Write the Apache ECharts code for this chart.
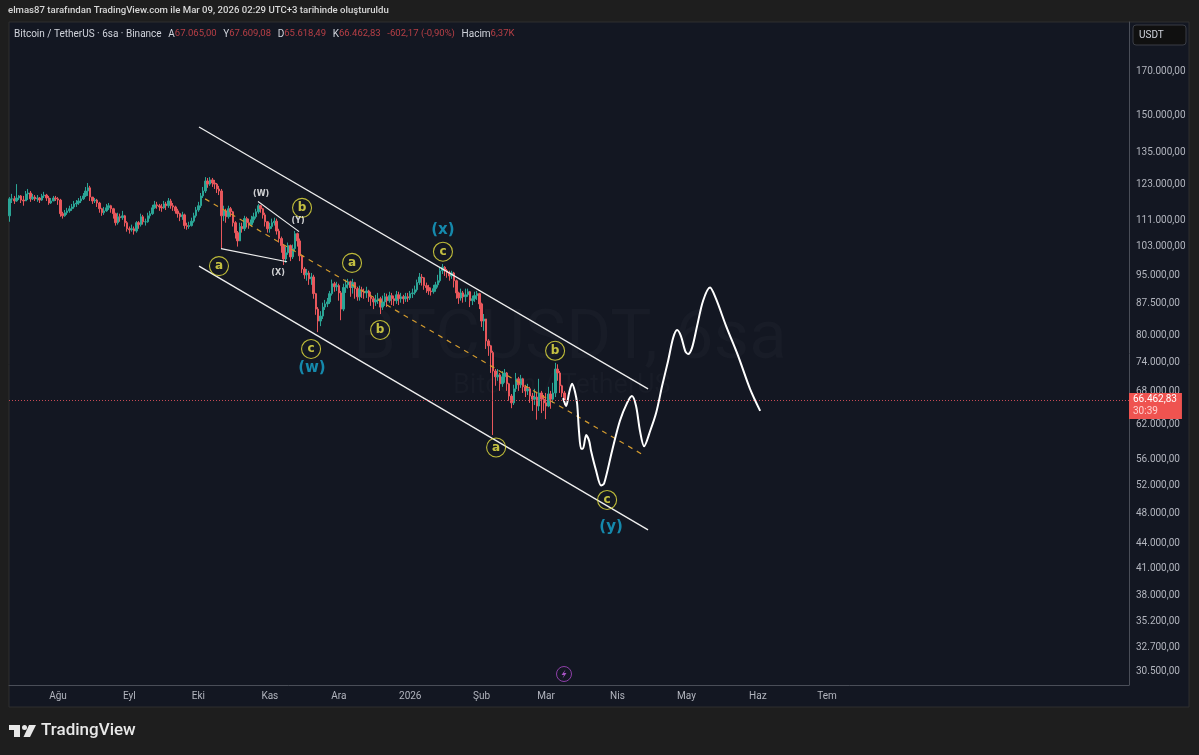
<!DOCTYPE html>
<html>
<head>
<meta charset="utf-8">
<title>BTCUSDT 6sa</title>
<style>
  html, body { margin: 0; padding: 0; background: #1e1e1e; }
  #main { width: 1199px; height: 755px; }
</style>
</head>
<body>
<div id="main"></div>
<script src="https://cdn.jsdelivr.net/npm/echarts@6/dist/echarts.min.js"></script>
<script>
// all prices in thousand USDT
const firstBar = '2025-07-11';
const firstOpen = 112.6;
const barCloses = [
  118.2,118.2,117.5,118.5,119.2,117.8,117.5,119.9,120.2,118.2,
  118.8,118.2,118.5,117.8,119.2,119.5,118.5,116.8,117.5,118.5,
  118.2,117.8,113.3,112.6,113.6,114.2,114.9,115.5,116.5,116.8,
  117.5,118.2,119.2,120.9,122.0,118.8,117.5,117.8,116.8,114.9,
  113.6,114.2,115.2,115.9,114.9,113.3,110.4,112.3,112.0,112.6,
  110.4,108.5,108.2,108.5,107.8,110.4,109.8,112.3,110.7,110.7,
  112.6,113.3,115.2,116.2,115.9,115.5,115.2,116.5,115.9,117.5,
  115.9,115.5,114.2,113.3,112.3,112.9,109.5,109.2,109.5,110.9,
  112.6,114.5,115.9,119.2,120.9,124.4,123.3,124.8,123.7,123.3,
  121.6,120.9,112.6,114.2,112.3,114.9,113.9,110.4,107.3,104.8,
  109.2,108.5,111.7,110.4,109.8,111.3,112.3,113.9,115.9,114.9,
  112.9,110.7,108.5,109.2,110.4,110.9,107.8,105.5,103.4,99.5,
  101.3,103.4,100.1,102.5,107.0,104.8,100.4,96.7,95.1,95.6,
  94.0,94.5,90.1,86.2,83.3,84.5,86.7,87.5,88.0,90.1,
  92.7,91.9,92.2,90.3,86.2,91.7,92.4,93.2,91.7,93.0,
  91.4,89.3,91.1,90.6,90.3,90.8,89.3,88.8,88.0,88.5,
  88.8,86.7,88.0,89.3,88.3,89.6,88.8,88.3,89.8,88.8,
  89.3,88.8,89.3,89.0,90.1,90.3,91.1,93.0,94.5,94.3,
  92.2,91.7,90.8,90.6,91.4,92.4,93.5,96.2,97.2,96.2,
  95.6,94.8,95.6,93.5,90.3,89.0,90.3,89.3,89.8,90.6,
  88.3,88.8,89.6,90.1,87.5,83.3,83.8,78.7,77.6,76.1,
  72.2,71.0,71.4,69.6,71.0,71.8,69.6,67.2,65.9,68.6,
  70.6,69.4,70.6,69.0,68.2,68.6,67.2,66.6,67.0,65.3,
  67.8,66.6,65.9,65.3,67.6,66.6,67.8,72.6,71.8,69.2,67.8,66.46
];
const barHighs = [
  118.8,119.9,119.2,123.3,119.5,119.5,119.2,120.9,121.6,120.9,
  119.9,119.5,119.5,118.8,119.9,120.6,119.9,119.2,118.5,119.2,
  119.2,118.8,118.2,113.9,114.5,115.2,115.9,116.5,117.5,117.8,
  118.5,119.2,120.2,122.3,123.7,122.7,118.8,118.5,118.2,117.2,
  115.2,115.5,116.5,116.8,116.2,115.2,113.6,113.6,113.3,114.2,
  112.9,110.9,109.2,109.8,109.2,110.9,110.9,113.3,112.9,111.7,
  113.6,114.2,116.2,117.5,117.2,116.5,116.5,117.5,117.2,118.5,
  118.2,116.8,115.9,114.9,113.6,113.9,113.3,110.4,110.7,112.0,
  113.6,115.5,117.2,120.2,122.3,125.8,125.5,125.8,125.5,124.8,
  123.7,122.7,121.6,115.9,114.9,115.9,115.5,114.2,110.9,107.8,
  110.4,110.4,112.6,112.3,111.7,112.6,113.6,114.9,116.5,116.2,
  115.2,113.6,110.9,110.4,111.7,112.0,111.7,108.5,106.1,103.7,
  103.1,104.3,103.7,103.7,107.8,107.3,105.5,100.7,97.2,96.7,
  96.2,95.6,95.1,90.3,86.7,85.7,87.8,88.5,89.0,90.8,
  93.8,93.2,93.2,92.7,90.8,92.7,93.8,94.0,93.5,94.0,
  93.2,91.9,92.2,91.9,91.4,91.9,91.1,90.6,89.3,89.8,
  90.3,89.3,89.6,90.3,90.1,90.6,90.3,89.6,90.8,90.6,
  90.3,89.8,90.3,90.3,90.8,91.4,92.2,93.8,95.6,95.3,
  94.5,93.0,92.4,91.7,92.4,93.2,95.1,97.2,98.1,97.5,
  96.7,96.2,96.2,95.9,93.8,90.6,91.4,90.8,91.4,91.4,
  90.8,89.6,90.6,90.8,90.3,87.8,85.0,83.8,79.1,77.8,
  76.5,72.6,72.6,71.8,72.2,72.6,72.0,69.8,67.6,69.4,
  71.8,71.0,71.4,70.8,69.4,69.6,69.0,67.8,68.6,67.8,
  70.6,68.2,67.4,67.8,69.0,68.2,69.8,73.9,73.6,72.2,69.4,68.2
];
const barLows = [
  110.7,116.8,116.5,117.2,117.8,116.8,115.9,118.5,117.8,117.2,
  117.8,117.5,117.2,116.8,117.5,118.5,117.5,116.2,116.5,117.5,
  117.5,116.2,112.3,111.7,112.3,112.9,113.6,114.2,114.9,115.5,
  116.2,116.8,117.8,118.8,119.2,117.5,116.5,116.8,115.5,113.6,
  112.6,112.9,113.9,114.5,113.6,111.7,109.5,109.8,110.7,111.3,
  109.2,107.6,107.0,107.6,106.7,107.3,108.5,109.2,109.8,109.5,
  110.4,111.7,112.9,114.9,114.9,114.2,113.9,114.9,114.5,115.2,
  114.9,114.2,113.3,112.0,110.9,111.3,108.5,108.2,108.5,109.2,
  110.4,112.0,113.9,115.2,118.5,120.2,122.0,122.7,122.3,121.6,
  120.2,119.5,102.5,110.9,110.4,111.7,112.3,109.2,105.5,103.1,
  104.8,107.3,107.8,108.9,108.5,109.2,110.4,111.7,113.3,113.6,
  111.7,109.2,107.3,107.3,108.5,109.5,106.7,104.3,101.3,97.8,
  98.4,100.7,98.9,99.5,101.8,103.1,98.9,95.6,94.0,93.5,
  92.4,92.4,88.8,84.8,80.7,82.1,83.8,86.0,86.7,87.5,
  89.6,90.6,90.8,88.3,83.5,85.7,90.3,91.4,89.3,90.1,
  88.8,88.3,88.3,89.0,88.8,89.0,88.0,87.0,86.2,87.0,
  87.5,85.0,86.0,87.0,86.7,87.8,87.2,87.0,87.5,87.2,
  87.8,87.5,88.0,88.0,88.5,89.0,89.8,90.6,92.4,92.2,
  91.1,90.3,89.8,89.6,90.1,90.6,91.7,93.0,95.3,94.8,
  94.3,93.5,94.0,91.7,88.8,87.5,88.3,87.8,88.0,89.3,
  86.7,87.2,88.0,88.5,86.2,81.9,81.0,76.9,75.4,71.8,
  60.1,69.2,70.2,68.2,69.0,69.8,68.2,66.3,64.9,65.5,
  68.0,68.2,68.8,67.8,67.0,67.4,65.9,64.4,65.5,62.8,
  64.4,64.0,64.4,62.9,65.1,64.8,65.9,67.0,70.2,67.8,67.0,65.5
];

// forecast path drawn by hand on the chart
const pathDates = [
  '2026-03-08 10:00','2026-03-09 17:00','2026-03-11 00:00','2026-03-12 07:00','2026-03-13 14:00',
  '2026-03-14 12:00','2026-03-15 07:00','2026-03-16 05:00','2026-03-17 00:00','2026-03-18 10:00',
  '2026-03-19 17:00','2026-03-20 12:00','2026-03-22 17:00','2026-03-24 22:00','2026-03-26 05:00',
  '2026-03-29 17:00','2026-04-02 02:00','2026-04-05 05:00','2026-04-07 07:00','2026-04-09 02:00',
  '2026-04-10 19:00','2026-04-12 14:00','2026-04-15 05:00','2026-04-17 19:00','2026-04-20 10:00',
  '2026-04-23 00:00','2026-04-25 05:00','2026-04-26 22:00','2026-04-28 14:00','2026-04-30 10:00',
  '2026-05-01 17:00','2026-05-03 10:00','2026-05-05 14:00','2026-05-08 05:00','2026-05-11 05:00',
  '2026-05-13 19:00','2026-05-18 05:00','2026-05-23 10:00','2026-05-28 14:00','2026-06-02 00:00'
];
const pathPrices = [
  66.8,65.3,67.8,69.6,68.0,65.7,60.8,57.8,57.8,60.1,
  59.1,57.5,54.3,52.0,52.3,57.5,62.6,65.9,67.2,65.3,
  60.8,58.2,60.8,64.0,69.2,74.3,79.4,81.2,79.8,76.5,
  75.8,77.2,82.1,88.3,91.7,88.8,82.1,75.4,68.6,64.4
];

// trend lines: each one is two dates and two prices
const channelTopDates = ['2025-10-01 06:00', '2026-04-14 07:00'];
const channelTopPrices = [145.2, 68.6];
const channelLowDates = ['2025-10-01 06:00', '2026-04-14 07:00'];
const channelLowPrices = [97.5, 45.8];
const midLineDates = ['2025-10-03 21:00', '2026-04-13 00:00'];
const midLinePrices = [118.2, 56.6];
const wyLineDates = ['2025-10-26 21:00', '2025-11-13 17:00'];
const wyLinePrices = [117.3, 107.6];
const xLineDates = ['2025-10-10 19:00', '2025-11-08 12:00'];
const xLinePrices = [102.5, 98.7];

// elliott wave marks
const circleNames = ['a', 'b', 'c', 'a', 'b', 'c', 'a', 'b', 'c'];
const circleDates = ['2025-10-09 22:00','2025-11-15 00:00','2025-11-18 22:00','2025-12-06 17:00','2025-12-18 22:00',
  '2026-01-15 05:00','2026-02-07 07:00','2026-03-04 22:00','2026-03-27 12:00'];
const circlePrices = [97.5, 115.2, 76.9, 98.4, 81.2, 101.6, 58.0, 76.5, 49.9];
const blueNames = ['(x)', '(w)', '(y)'];
const blueDates = ['2026-01-15 05:00', '2025-11-19 07:00', '2026-03-29 05:00'];
const bluePrices = [108.2, 72.8, 46.2];
const whiteNames = ['(W)', '(Y)', '(X)'];
const whiteDates = ['2025-10-28 05:00', '2025-11-13 07:00', '2025-11-04 14:00'];
const whitePrices = [119.9, 110.9, 95.6];

const monthDates = ['2025-08-01 00:00','2025-09-01 00:00','2025-10-01 00:00','2025-11-01 00:00','2025-12-01 00:00','2026-01-01 00:00',
  '2026-02-01 00:00','2026-03-01 00:00','2026-04-01 00:00','2026-05-01 00:00','2026-06-01 00:00','2026-07-01 00:00'];
const monthLabels = ['Ağu','Eyl','Eki','Kas','Ara','2026','Şub','Mar','Nis','May','Haz','Tem'];
const priceTicks = [170000,150000,135000,123000,111000,103000,95000,87500,80000,74000,68000,62000,
  56000,52000,48000,44000,41000,38000,35200,32700,30500];
const lastPrice = 66462.83;

const UP = '#2ba596';
const DOWN = '#e8575c';
const FONT = 'Roboto, sans-serif';

function ms(d) {
  return new Date(d.replace(' ', 'T')).getTime();
}

function fmtPrice(v) {
  return Math.round(v).toLocaleString('de-DE') + ',00';
}

function pairs(dates, prices) {
  return dates.map((d, i) => [ms(d), prices[i] * 1000]);
}

function lineSeries(dates, prices, color, width, type, smooth) {
  return {
    type: 'line', data: pairs(dates, prices), showSymbol: false, silent: true, smooth: smooth || false,
    lineStyle: { color: color, width: width, type: type || 'solid' }, z: 4
  };
}

function textMarks(names, dates, prices, label) {
  return {
    type: 'scatter', symbolSize: 1, itemStyle: { color: 'transparent' }, silent: true, z: 5,
    data: names.map((n, i) => ({ name: n, value: [ms(dates[i]), prices[i] * 1000] })),
    label: Object.assign({ show: true, position: 'inside', formatter: '{b}', fontFamily: FONT }, label)
  };
}

let start = ms(firstBar + ' 00:00');
let candles = barCloses.map((c, i) => {
  let open = i === 0 ? firstOpen : barCloses[i - 1];
  return [start + i * 86400000, open * 1000, c * 1000, barLows[i] * 1000, barHighs[i] * 1000];
});

let chart = echarts.init(document.getElementById('main'), null, { renderer: 'canvas' });
chart.setOption({
  animation: false,
  backgroundColor: '#1e1e1e',
  textStyle: { fontFamily: FONT },
  grid: { left: 9, right: 70, top: 22, bottom: 70 },
  xAxis: {
    type: 'value',
    scale: true,
    min: ms('2025-07-10 17:00'),
    max: ms('2026-11-09 05:00'),
    splitLine: { show: false },
    axisLine: { lineStyle: { color: '#4a4e58', width: 1 } },
    axisTick: { show: false },
    axisLabel: {
      customValues: monthDates.map(ms),
      formatter: v => monthLabels[monthDates.findIndex(d => ms(d) === v)],
      color: '#b2b5be', fontSize: 10, margin: 6
    }
  },
  yAxis: {
    type: 'log',
    position: 'right',
    min: 29374,
    max: 196160,
    splitLine: { show: false },
    axisLine: { show: true, lineStyle: { color: '#4a4e58', width: 1 } },
    axisTick: { show: false },
    axisLabel: {
      customValues: priceTicks,
      formatter: v => fmtPrice(v),
      color: '#b2b5be', fontSize: 10, margin: 7, padding: [2, 0, 0, 0]
    }
  },
  series: [
    {
      type: 'candlestick',
      data: candles,
      barWidth: 2,
      silent: true,
      itemStyle: { color: UP, color0: DOWN, borderColor: UP, borderColor0: DOWN, borderWidth: 1 },
      z: 3,
      markLine: {
        silent: true, symbol: 'none', animation: false,
        lineStyle: { color: '#c74a55', type: [1, 2], width: 1 },
        data: [{ yAxis: lastPrice }],
        label: {
          show: true, position: 'end', distance: 0, offset: [0, 6],
          formatter: '{a|66.462,83}\n{b|30:39}',
          backgroundColor: '#ef5350', padding: [1, 5, 1, 4],
          rich: {
            a: { color: '#ffffff', fontSize: 10, lineHeight: 12, fontFamily: FONT },
            b: { color: '#ffd0cf', fontSize: 10, lineHeight: 12, fontFamily: FONT }
          }
        }
      }
    },
    lineSeries(channelTopDates, channelTopPrices, '#efefef', 1.3),
    lineSeries(channelLowDates, channelLowPrices, '#efefef', 1.3),
    lineSeries(midLineDates, midLinePrices, '#d29a2e', 1.2, [5, 5]),
    lineSeries(wyLineDates, wyLinePrices, '#efefef', 1.1),
    lineSeries(xLineDates, xLinePrices, '#efefef', 1.1),
    lineSeries(pathDates, pathPrices, '#ffffff', 2, 'solid', 0.3),
    {
      type: 'scatter', symbol: 'circle', symbolSize: 19, silent: true, z: 5,
      itemStyle: { color: 'transparent', borderColor: '#e9e33f', borderWidth: 1.1 },
      data: circleNames.map((n, i) => ({ name: n, value: [ms(circleDates[i]), circlePrices[i] * 1000] })),
      label: { show: true, position: 'inside', formatter: '{b}', color: '#f0ea4a', fontSize: 12, fontWeight: 'bold', fontFamily: 'DejaVu Sans' }
    },
    textMarks(blueNames, blueDates, bluePrices, { color: '#17a6cf', fontSize: 15, fontWeight: 'bold', fontFamily: 'DejaVu Sans' }),
    textMarks(whiteNames, whiteDates, whitePrices, { color: '#ffffff', fontSize: 8, fontWeight: 'bold', fontFamily: 'DejaVu Sans' })
  ],
  graphic: [
    // panel behind the plot and the two axis strips
    { type: 'rect', z: -10, silent: true, shape: { x: 9, y: 22, width: 1180, height: 685 },
      style: { fill: '#131722', stroke: '#2e2e2e', lineWidth: 1 } },
    { type: 'text', z: -5, silent: true, x: 353, y: 306,
      style: { text: 'BTCUSDT, 6sa', fill: '#181c27', font: '69px ' + FONT } },
    { type: 'text', z: -5, silent: true, x: 453, y: 373,
      style: { text: 'Bitcoin / TetherUS', fill: '#181c27', font: '27px ' + FONT } },
    { type: 'text', x: 8, y: 6, silent: true,
      style: { text: 'elmas87 tarafından TradingView.com ile Mar 09, 2026 02:29 UTC+3 tarihinde oluşturuldu',
        fill: '#d8d8d8', font: '500 9.6px ' + FONT } },
    { type: 'text', x: 14, y: 28, silent: true, z: 10,
      style: {
        text: '{t|Bitcoin / TetherUS · 6sa · Binance}  {t|A}{r|67.065,00}  {t|Y}{r|67.609,08}  {t|D}{r|65.618,49}  {t|K}{r|66.462,83}  {r|-602,17 (-0,90%)}  {t|Hacim}{r|6,37K}',
        rich: {
          t: { fill: '#d1d4dc', font: '10px ' + FONT },
          r: { fill: '#b73f46', font: '9.5px ' + FONT }
        }
      } },
    { type: 'rect', z: 10, silent: true, shape: { x: 1133, y: 25, width: 53, height: 20, r: 3 },
      style: { fill: '#101010', stroke: '#3a3d45', lineWidth: 1 } },
    { type: 'text', z: 11, x: 1139, y: 30, silent: true,
      style: { text: 'USDT', fill: '#d1d4dc', font: '10px ' + FONT } },
    // event marker above the time scale
    { type: 'circle', z: 10, silent: true, shape: { cx: 564, cy: 674, r: 7.5 },
      style: { fill: 'transparent', stroke: '#8e3fa8', lineWidth: 1 } },
    { type: 'polygon', z: 10, silent: true, shape: { points: [[565.5,669.5],[561.5,675],[564,675],[562.5,678.5],[566.5,673],[564,673]] },
      style: { fill: '#a855c4' } },
    // logo
    { type: 'polygon', silent: true, shape: { points: [[9,725],[20,725],[20,737],[14,737],[14,730],[9,730]] }, style: { fill: '#e8e8e8' } },
    { type: 'circle', silent: true, shape: { cx: 24.5, cy: 727.5, r: 2.5 }, style: { fill: '#e8e8e8' } },
    { type: 'polygon', silent: true, shape: { points: [[29,725],[36,725],[30,737],[23.5,737]] }, style: { fill: '#e8e8e8' } },
    { type: 'text', x: 41, y: 722, silent: true,
      style: { text: 'TradingView', fill: '#e8e8e8', font: '500 17px ' + FONT } }
  ]
});
</script>
</body>
</html>
